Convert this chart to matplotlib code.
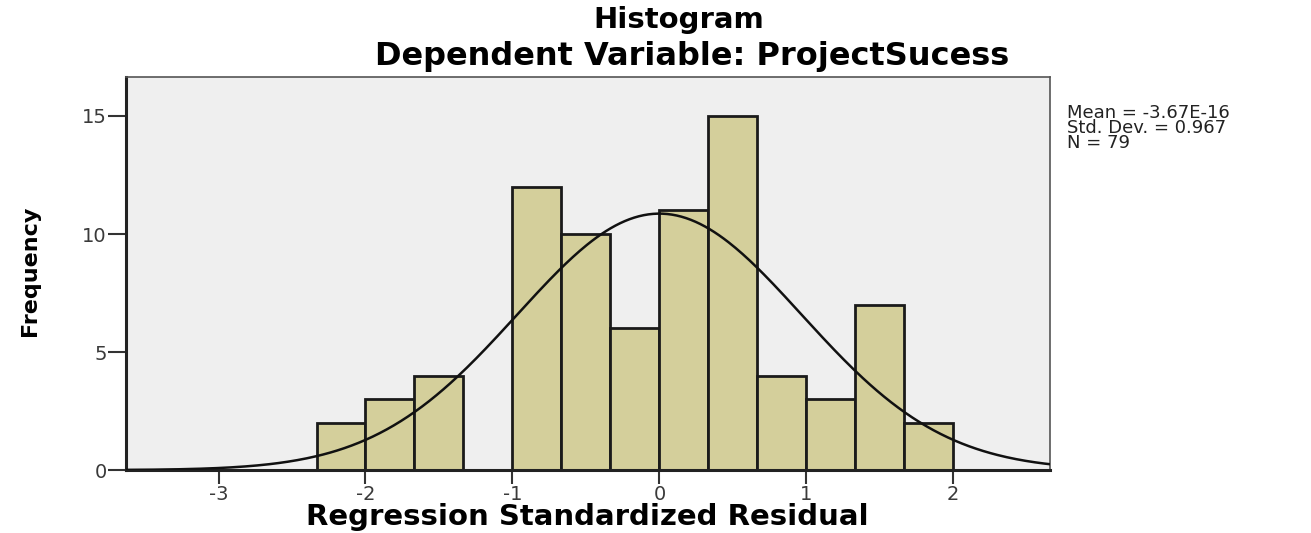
import matplotlib
matplotlib.use("Agg")
import matplotlib.pyplot as plt
from matplotlib import font_manager
import numpy as np

# histogram of regression standardized residuals
bin_edges = [-7/3, -2, -5/3, -4/3, -1, -2/3, -1/3, 0, 1/3, 2/3, 1, 4/3, 5/3, 2]
counts = [2, 3, 4, 0, 12, 10, 6, 11, 15, 4, 3, 7, 2]

# summary stats reported by SPSS
mean_label = '-3.67E-16'
mean = -3.67e-16
std_dev = 0.967
n_obs = 79

x_ticks = [-3, -2, -1, 0, 1, 2]
y_ticks = [0, 5, 10, 15]

plt.rcParams['font.family'] = ['DejaVu Sans']
plt.rcParams['axes.unicode_minus'] = False

# narrow face for the y label if there is one
installed = {f.name for f in font_manager.fontManager.ttflist}
narrow = 'Liberation Sans Narrow' in installed

fig = plt.figure(figsize=(13.11, 5.33), dpi=100)
ax = fig.add_axes([0.0961, 0.118, 0.705, 0.7375])
ax.set_facecolor('#efefef')

widths = np.diff(bin_edges)
ax.bar(bin_edges[:-1], counts, width=widths, align='edge',
       color='#d4cf9b', edgecolor='#1a1a1a', linewidth=2.0, zorder=2)

# fitted normal curve
bw = widths[0]
xs = np.linspace(-3.7, 2.7, 400)
ys = n_obs * bw / (std_dev * np.sqrt(2 * np.pi)) * np.exp(-0.5 * ((xs - mean) / std_dev) ** 2)
ax.plot(xs, ys, color='#111111', linewidth=1.8, zorder=3)

ax.set_xlim(-3.63, 2.66)
ax.set_ylim(0, 16.65)
ax.set_xticks(x_ticks)
ax.set_yticks(y_ticks)
ax.tick_params(direction='out', width=1.5, color='#333333',
               labelsize=14, labelcolor='#3a3a3a')
ax.tick_params(axis='x', length=10, pad=1)
ax.tick_params(axis='y', length=13, pad=1)

for side in ['left', 'bottom']:
    ax.spines[side].set_linewidth(2.2)
    ax.spines[side].set_color('#222222')
for side in ['top', 'right']:
    ax.spines[side].set_linewidth(1.2)
    ax.spines[side].set_color('#555555')

fig.text(587 / 1311, 1 - 525 / 533, 'Regression Standardized Residual',
         ha='center', va='baseline', fontsize=21, fontweight='bold')
if narrow:
    fig.text(30 / 1311, 1 - 271 / 533, 'Frequency', rotation=90, ha='center', va='center',
             fontsize=18, fontweight='bold', family='Liberation Sans Narrow')
else:
    fig.text(30 / 1311, 1 - 271 / 533, 'Frequency', rotation=90, ha='center', va='center',
             fontsize=16, fontweight='bold')

fig.text(0.518, 1 - 28 / 533, 'Histogram', ha='center', va='baseline',
         fontsize=21, fontweight='bold')
fig.text(0.528, 1 - 65 / 533, 'Dependent Variable: ProjectSucess', ha='center', va='baseline',
         fontsize=23, fontweight='bold')

fig.text(1067 / 1311, 1 - 104 / 533, f'Mean = {mean_label}\nStd. Dev. = {std_dev}\nN = {n_obs}',
         ha='left', va='top', fontsize=13, linespacing=0.8, color='#222222')

fig.savefig('out.png', dpi=100)
